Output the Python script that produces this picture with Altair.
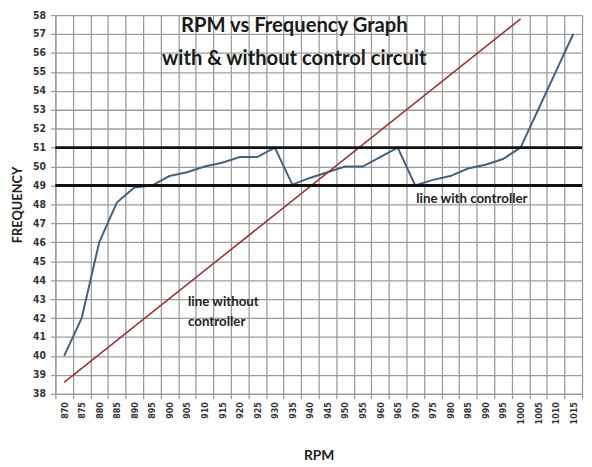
import altair as alt
import pandas as pd

# ---- data ----
rpm = [870, 875, 880, 885, 890, 895, 900, 905, 910, 915, 920, 925, 930, 935, 940,
       945, 950, 955, 960, 965, 970, 975, 980, 985, 990, 995, 1000, 1005, 1010, 1015]
freq_with_controller = [40, 42, 46, 48.1, 48.9, 49, 49.5, 49.7, 50, 50.2, 50.5, 50.5, 51, 49.05, 49.4,
                        49.7, 50, 50, 50.5, 51, 49, 49.3, 49.5, 49.9, 50.1, 50.4, 51, 53, 55, 57]
rpm_without = [870, 1000]
freq_without_controller = [38.6, 57.8]
limit_levels = [49, 51]
y_ticks = list(range(38, 59))

title_lines = ["RPM vs Frequency Graph", "with & without  control circuit"]
title_rpm = [935, 935]
title_freq = [57.4, 55.7]

note_lines = ["line with controller", "line without", "controller"]
note_rpm = [970, 905, 905]
note_freq = [48.3, 42.85, 41.8]

FONT = "Lato"
LABEL_FONT = "'DejaVu Sans Condensed', 'Liberation Sans Narrow', Lato"
GRID = "#9c9c9c"

df_with = pd.DataFrame({"rpm": rpm, "freq": freq_with_controller})
df_without = pd.DataFrame({"rpm": rpm_without, "freq": freq_without_controller})
df_limits = pd.DataFrame({"freq": limit_levels})
df_title = pd.DataFrame({"rpm": title_rpm, "freq": title_freq, "txt": title_lines})
df_notes = pd.DataFrame({"rpm": note_rpm, "freq": note_freq, "txt": note_lines})

x_scale = alt.Scale(type="band", domain=rpm, paddingInner=0, paddingOuter=0)
y_scale = alt.Scale(domain=[38, 58], nice=False, zero=False)

x_axis = alt.Axis(title="RPM", labelAngle=-90, tickBand="extent", grid=True,
                  gridColor=GRID, gridWidth=1.3, domainColor=GRID, domainWidth=1.3,
                  tickColor=GRID, tickWidth=1.3, tickSize=5, labelOverlap=False,
                  labelFont=LABEL_FONT, labelFontSize=9, labelFontWeight="bold",
                  labelColor="#333333", labelPadding=3,
                  titleFont=FONT, titleFontSize=14, titleFontWeight="bold",
                  titleColor="#222222", titlePadding=25)
y_axis = alt.Axis(title="FREQUENCY", values=y_ticks, grid=True, labelOverlap=False,
                  gridColor=GRID, gridWidth=1.3, domainColor=GRID, domainWidth=1.3,
                  tickColor=GRID, tickWidth=1.3, tickSize=5,
                  labelFont=LABEL_FONT, labelFontSize=10.5, labelFontWeight="bold",
                  labelColor="#333333", labelPadding=5,
                  titleFont=FONT, titleFontSize=13, titleFontWeight="bold",
                  titleColor="#222222", titlePadding=8)

x_enc = alt.X("rpm:O", scale=x_scale, axis=x_axis, bandPosition=0.5)
y_enc = alt.Y("freq:Q", scale=y_scale, axis=y_axis)

with_line = alt.Chart(df_with).mark_line(color="#46617f", strokeWidth=2).encode(
    x=x_enc, y=y_enc)

without_line = alt.Chart(df_without).mark_line(color="#9a3434", strokeWidth=1.6).encode(
    x=x_enc, y=y_enc)

limits = alt.Chart(df_limits).mark_rule(color="#111111", strokeWidth=3).encode(
    y=y_enc)

titles = alt.Chart(df_title).mark_text(font=FONT, fontSize=20.5, fontWeight="bold",
                                        color="#1a1a1a", align="center", baseline="middle", dx=2).encode(
    x=x_enc, y=y_enc, text="txt:N")

notes = alt.Chart(df_notes).mark_text(font=FONT, fontSize=13.5, fontWeight="bold",
                                       color="#222222", align="left", baseline="middle", dx=1).encode(
    x=x_enc, y=y_enc, text="txt:N")

chart = alt.layer(with_line, without_line, limits, titles, notes).properties(
    width=534, height=384,
    autosize=alt.AutoSizeParams(type="none"),
    padding={"left": 48, "top": 4, "right": 2, "bottom": 70},
).configure_view(stroke=None)

chart.save("out.html", embed_options={"renderer": "svg", "actions": False})
